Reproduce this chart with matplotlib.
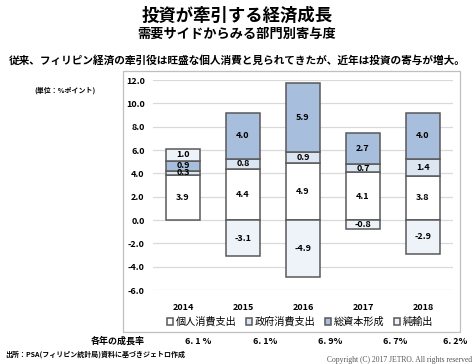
import numpy as np
import matplotlib.pyplot as plt
from matplotlib.patches import Rectangle

plt.rcParams['font.family'] = ['Noto Sans CJK JP', 'DejaVu Sans']

years = ['2014', '2015', '2016', '2017', '2018']
series_names = ['個人消費支出', '政府消費支出', '総資本形成', '純輸出']
personal = [3.9, 4.4, 4.9, 4.1, 3.8]
government = [0.3, 0.8, 0.9, 0.7, 1.4]
capital = [0.9, 4.0, 5.9, 2.7, 4.0]
net_exports = [1.0, -3.1, -4.9, -0.8, -2.9]
growth = ['6. 1 %', '6. 1%', '6. 9%', '6. 7%', '6. 2%']

colors = ['#ffffff', '#dce6f2', '#a7bedd', '#eef3fa']
edge = '#595959'

fig = plt.figure(figsize=(4.74, 3.64), dpi=100)

# titles
fig.text(0.5, 1 - 16 / 364, '投資が牽引する経済成長', ha='center', va='center',
         fontsize=12.5, fontweight='bold')
fig.text(0.5, 1 - 34 / 364, '需要サイドからみる部門別寄与度', ha='center', va='center',
         fontsize=9.5, fontweight='bold')
fig.text(0.5, 1 - 60 / 364, '従来、フィリピン経済の牽引役は旺盛な個人消費と見られてきたが、近年は投資の寄与が増大。',
         ha='center', va='center', fontsize=7.7, fontweight='bold')
fig.text(65 / 474, 1 - 90 / 364, '(単位：%ポイント)', ha='center', va='center',
         fontsize=5, fontweight='bold')

# chart frame
fig.patches.append(Rectangle((123 / 474, 1 - 332 / 364), 337 / 474, 261 / 364,
                             transform=fig.transFigure, fill=False,
                             edgecolor='#bfbfbf', linewidth=0.9))

ax = fig.add_axes([153 / 474, 1 - 290 / 364, 300 / 474, 210 / 364])
x = np.arange(len(years))
w = 0.58

data = [personal, government, capital, net_exports]
pos_bottom = np.zeros(len(years))
neg_bottom = np.zeros(len(years))
handles = []
for vals, name, c in zip(data, series_names, colors):
    vals = np.array(vals)
    bottoms = np.where(vals >= 0, pos_bottom, neg_bottom)
    bars = ax.bar(x, vals, w, bottom=bottoms, color=c, edgecolor=edge,
                  linewidth=1.1, label=name, zorder=3)
    handles.append(bars)
    for xi, b, v in zip(x, bottoms, vals):
        ax.text(xi, b + v / 2, f'{v:.1f}', ha='center', va='center',
                fontsize=6.5, fontweight='bold', zorder=4)
    pos_bottom = pos_bottom + np.where(vals >= 0, vals, 0)
    neg_bottom = neg_bottom + np.where(vals < 0, vals, 0)

ax.set_xlim(-0.5, len(years) - 0.5)
ax.set_ylim(-6, 12)
ax.set_yticks(np.arange(-6, 13, 2))
ax.set_yticklabels([f'{v:.1f}' for v in np.arange(-6, 13, 2)])
ax.set_xticks(x)
ax.set_xticklabels(years)
ax.tick_params(length=0, labelsize=6.5, pad=6)
for lab in ax.get_xticklabels() + ax.get_yticklabels():
    lab.set_fontweight('bold')
ax.tick_params(axis='x', pad=9)
ax.grid(axis='y', color='#d9d9d9', linewidth=0.9, zorder=0)
for s in ax.spines.values():
    s.set_visible(False)

fig.legend(handles=handles, labels=series_names, loc='center', ncol=4,
           bbox_to_anchor=(300 / 474, 1 - 322 / 364), frameon=False,
           fontsize=7.3, handlelength=0.6, handleheight=0.6, handletextpad=0.2,
           columnspacing=1.0)

# growth rates row
fig.text(118 / 474, 1 - 341 / 364, '各年の成長率', ha='center', va='center',
         fontsize=6.5, fontweight='bold')
for gx, g in zip([198, 265, 330, 395, 455], growth):
    fig.text(gx / 474, 1 - 341 / 364, g, ha='center', va='center',
             fontsize=6.5, fontweight='bold')

fig.text(5 / 474, 1 - 354 / 364, '出所：PSA(フィリピン統計局)資料に基づきジェトロ作成',
         ha='left', va='center', fontsize=5, fontweight='bold')
fig.text(327 / 474, 1 - 360 / 364, 'Copyright (C) 2017 JETRO. All rights reserved',
         ha='left', va='center', fontsize=5.5, family='Liberation Serif', color='#555555')

fig.savefig('out.png', dpi=100)
